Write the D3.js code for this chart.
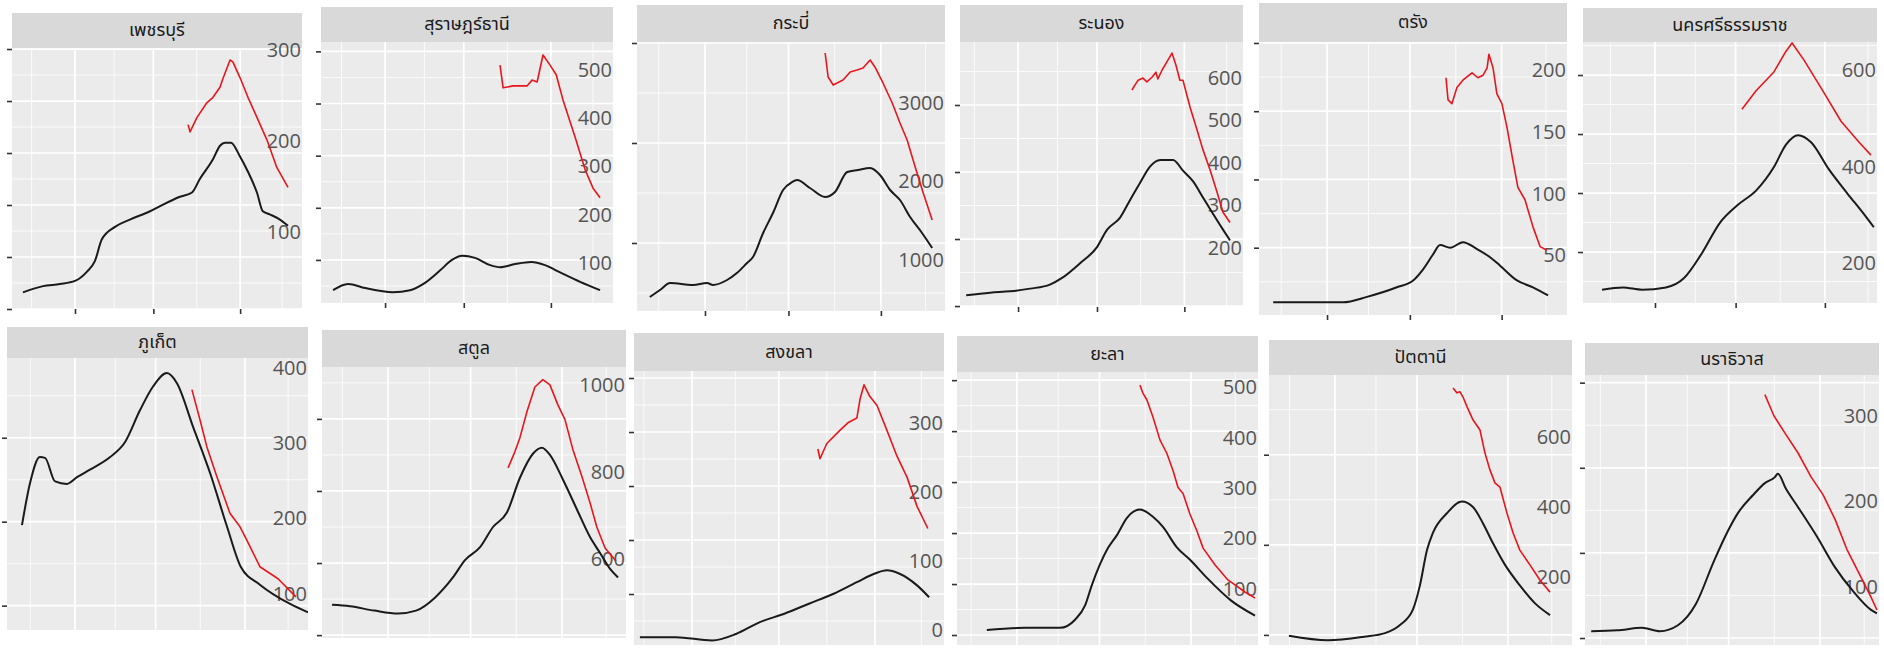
<!DOCTYPE html>
<html><head><meta charset="utf-8">
<script src="https://cdn.jsdelivr.net/npm/d3@7"></script>
<style>
html,body{margin:0;padding:0;background:#fff;}
svg{display:block;}
</style></head>
<body>
<svg id="chart" width="1884" height="648"></svg>
<script>
// ---------------- DATA ----------------
// x values: days counted from 1 Feb 2022 (negative = January)
const provinces = ["เพชรบุรี","สุราษฎร์ธานี","กระบี่","ระนอง","ตรัง","นครศรีธรรมราช",
                   "ภูเก็ต","สตูล","สงขลา","ยะลา","ปัตตานี","นราธิวาส"];
const monthStarts = [-31, 0, 28, 59, 89]; // 1 Jan, 1 Feb, 1 Mar, 1 Apr, 1 May

// black series (left axis, unlabeled) and red series (right axis labels)
const phetchaburiBlack = [[-18.6,16],[-11.4,22],[-5.4,24],[0,27],[4.3,36],[7.1,46],[9.6,67],[14.3,79],[19.6,86],[26.8,94],[30.4,99],[37.5,108],[41.8,112],[44.6,125],[49.3,144],[51.8,157],[53.6,160],[55.7,160],[58.9,147],[61.8,132],[65,112],[67.1,94],[69.6,91],[73.2,86],[76.1,80]];
const phetchaburiRed = [[40.4,218],[41.1,210],[43.6,226],[47.1,242],[49.3,248],[51.8,259],[52.9,269],[55.4,289],[56.4,287],[58.9,270],[61.8,248],[65,226],[68.6,201],[72.1,171],[76.1,149]];
const phetchaburiRightTicks = [100,200,300];

const suratBlack = [[-18.5,21],[-13.2,27],[-7.1,23],[2.8,19],[8.9,21],[14.2,28],[19.6,40],[23.8,50],[27.4,54],[32,52],[37.4,45],[40.9,43],[46.3,46],[52,48],[56.9,45],[62.3,38],[69.4,29],[76.5,21]];
const suratRed = [[40.9,510],[42,463],[45.6,467],[50.5,467],[52.3,479],[54.1,475],[56.2,531],[58.7,510],[60.9,490],[63.3,438],[67.6,361],[71.2,293],[74,255],[76.5,235]];
const suratRightTicks = [100,200,300,400,500];

const krabiBlack = [[-18.5,46],[-15.1,53],[-11.7,60],[-4,58],[0.7,60],[2.7,58],[7.4,63],[10.7,70],[14.1,80],[16.1,86],[19.5,110],[22.8,130],[26.2,153],[29.2,161],[30.9,163],[35.2,155],[40.3,146],[43.6,151],[47.7,171],[51.3,173],[55.4,175],[58.7,168],[62.1,153],[65.4,143],[68.8,126],[72.8,110],[76.2,95]];
const krabiRed = [[40.3,3637],[41.3,3331],[43,3229],[46.3,3293],[48.7,3395],[51,3420],[53,3446],[55.4,3548],[57,3459],[59.7,3255],[62.8,3000],[65.4,2745],[67.8,2529],[70.5,2185],[73.2,1853],[76.2,1509]];
const krabiRightTicks = [1000,2000,3000];

const ranongBlack = [[-18.4,8],[-9.9,10],[-2.8,11],[4.3,13],[11.3,16],[15.6,21],[22,32],[28,44],[31.6,57],[36.2,66],[39.7,79],[43.3,92],[46.8,104],[50.4,109],[55,109],[58.5,101],[62.1,93],[65.6,81],[69.1,69],[72.7,57],[75.2,49]];
const ranongRed = [[40.4,572],[41.5,584],[42.6,595],[44.3,600],[45.7,591],[47.5,602],[48.9,614],[49.6,598],[51.1,619],[52.8,638],[54.6,659],[56,631],[57.4,595],[58.5,595],[61,532],[63.5,478],[65.6,431],[68.1,384],[70.6,331],[72.7,284],[75.2,260]];
const ranongRightTicks = [200,300,400,500,600];

const trangBlack = [[-18.2,10],[-9.1,10],[5.4,10],[13.5,14],[23.6,21],[29.1,26],[32.4,34],[35.8,45],[38.2,52],[41.6,50],[45.9,54],[50.7,49],[55.1,43],[58.4,37],[64.2,26],[69.6,21],[74.7,15]];
const trangRed = [[40.2,194],[40.9,176],[42.2,173],[43.9,186],[45.9,192],[49,198],[51,194],[52.7,196],[54.1,202],[54.7,213],[56.1,202],[57.4,181],[59.1,173],[60.8,154],[62.8,127],[64.5,105],[66.9,95],[69.6,73],[72,57],[74.3,54]];
const trangRightTicks = [50,100,150,200];

const nakhonBlack = [[-18.4,18],[-11.1,20],[-4.5,18],[3.8,20],[10.1,28],[16.3,49],[22.6,75],[28.8,90],[35.1,102],[41.3,122],[45.5,141],[49.7,149],[54.2,143],[60.4,120],[66.7,100],[72.9,81],[76,71]];
const nakhonRed = [[30.2,519],[35.1,557],[41.3,596],[45.5,639],[47.6,656],[51.7,621],[58.3,557],[64.6,494],[70.8,451],[75,424]];
const nakhonRightTicks = [200,400,600];

const phuketBlack = [[-18.4,196],[-15.6,246],[-12.2,277],[-10.4,276],[-6.9,248],[-2.8,245],[0.7,253],[5.2,262],[12.2,277],[17.4,295],[22.6,333],[27.1,361],[31.9,377],[35.4,365],[41,313],[46.9,258],[52.8,194],[57.6,146],[64.2,125],[74.7,102],[80.9,92]];
const phuketRed = [[40.6,371],[43.4,331],[45.8,295],[49.3,255],[53.8,207],[57.3,189],[59.7,171],[64.2,136],[70.5,120],[76.7,96]];
const phuketRightTicks = [100,200,300,400];

const satunBlack = [[-19,71],[-12.9,70],[-4.7,67],[3.4,65],[9.5,67],[15.9,76],[22,90],[26.1,102],[31.2,111],[35.6,125],[40.3,135],[44.7,159],[49.2,176],[52.2,180],[54.9,175],[59.3,158],[64.1,137],[68.5,118],[71.9,107],[75.3,96],[78,90]];
const satunRed = [[40.7,809],[43,846],[44.7,878],[47.1,938],[49.8,995],[52.5,1012],[54.9,1000],[57.6,954],[60,920],[62.7,851],[65.8,788],[68.5,729],[70.8,673],[73.6,625],[77.3,595]];
const satunRightTicks = [600,800,1000];

const songkhlaBlack = [[-16.8,10],[-5.2,10],[6.5,7],[14.2,13],[21.9,24],[30,32],[37.7,41],[45.5,50],[53.2,61],[59,69],[62.9,72],[66.8,69],[72.6,58],[76.5,47]];
const songkhlaRed = [[40.6,262],[41.3,248],[43.5,270],[47.7,289],[50.3,300],[53.2,307],[54.2,334],[55.5,355],[57.4,338],[59.7,325],[62.9,289],[66.1,252],[69.4,221],[72.6,179],[76.1,147]];
const songkhlaRightTicks = [0,100,200,300];

const yalaBlack = [[-10.2,5],[3.1,7],[14.6,7],[19.7,15],[23.1,29],[25.4,49],[28.1,69],[30.8,85],[33.9,98],[37.3,115],[41.7,123],[46.1,116],[49.5,106],[54.2,86],[58.6,74],[64.4,56],[72.5,34],[80.7,19]];
const yalaRed = [[41.7,504],[42.7,488],[44.1,474],[46.1,441],[48.5,395],[50.8,369],[52.9,335],[54.6,301],[56.3,289],[58.6,249],[61,215],[63.1,181],[67.1,148],[71.5,118],[77.3,94],[80.7,82]];
const yalaRightTicks = [100,200,300,400,500];

const pattaniBlack = [[-15.7,99],[-2.4,94],[9.9,98],[17.1,102],[22.2,111],[26.6,128],[29,155],[31.4,194],[33.4,213],[38.2,235],[43.3,248],[47.1,242],[50.5,224],[53.9,202],[58,178],[63.1,155],[68.3,135],[73.4,122]];
const pattaniRed = [[40.3,740],[41.6,726],[42.7,729],[43.7,714],[45.1,686],[47.1,649],[49.5,620],[51.2,554],[52.9,506],[54.6,469],[56.3,457],[58.7,383],[60.8,326],[63.1,277],[66.6,234],[70,191],[73.4,157]];
const pattaniRightTicks = [200,400,600];

const narathiwatBlack = [[-18.6,8],[-9.8,9],[-1.4,12],[4.7,8],[10.8,15],[16.9,40],[23.1,91],[27.8,126],[31.2,147],[36.3,168],[40.3,182],[43.7,189],[44.7,193],[47.5,175],[51.5,154],[58,119],[64.1,83],[70.2,55],[76.3,33],[78.3,29]];
const narathiwatRed = [[40.3,325],[43.4,300],[47.5,278],[51.5,257],[55.9,229],[60,208],[64.1,179],[68.1,144],[72.2,116],[76.3,88],[78.3,73]];
const narathiwatRightTicks = [100,200,300];

// ---------------- LAYOUT (collage of panels) ----------------
const seriesBlack = [phetchaburiBlack,suratBlack,krabiBlack,ranongBlack,trangBlack,nakhonBlack,phuketBlack,satunBlack,songkhlaBlack,yalaBlack,pattaniBlack,narathiwatBlack];
const seriesRed = [phetchaburiRed,suratRed,krabiRed,ranongRed,trangRed,nakhonRed,phuketRed,satunRed,songkhlaRed,yalaRed,pattaniRed,narathiwatRed];
const rightTicks = [phetchaburiRightTicks,suratRightTicks,krabiRightTicks,ranongRightTicks,trangRightTicks,nakhonRightTicks,phuketRightTicks,satunRightTicks,songkhlaRightTicks,yalaRightTicks,pattaniRightTicks,narathiwatRightTicks];

const layout = [
 {x0:12,  x1:302,  st:13, top:48,  bot:309, xd:[-22.5,81.1], ld:[0,251],     step:50,  rd:[15.4,302.2], row:0},
 {x0:321, x1:613,  st:7,  top:42,  bot:303, xd:[-22.8,81.1], ld:[8.7,259],   step:50,  rd:[17,558],     row:0},
 {x0:637, x1:945,  st:5,  top:42,  bot:311, xd:[-22.8,80.5], ld:[32,301],    step:100, rd:[350,3777],   row:0},
 {x0:960, x1:1243, st:5,  top:42,  bot:307, xd:[-20.6,79.8], ld:[-0.7,197],  step:50,  rd:[61,685],     row:0},
 {x0:1259,x1:1567, st:3,  top:42,  bot:315, xd:[-23,81.1],   ld:[0.7,200.7], step:50,  rd:[1.5,223],    row:0},
 {x0:1583,x1:1877, st:8,  top:42,  bot:303, xd:[-25,77.1],   ld:[6.8,228],   step:50,  rd:[118,658],    row:0},
 {x0:7,   x1:308,  st:327,top:358, bot:630, xd:[-23.6,80.9], ld:[71,395],    step:100, rd:[52,413],     row:1},
 {x0:322, x1:626,  st:330,top:367, bot:638, xd:[-22.4,80.7], ld:[48,236],    step:50,  rd:[418,1041],   row:1},
 {x0:634, x1:944,  st:333,top:371, bot:645, xd:[-18.7,81.3], ld:[2.8,256.5], step:50,  rd:[-21.7,375],  row:1},
 {x0:957, x1:1258, st:336,top:372, bot:645, xd:[-20.3,81.7], ld:[-9.8,258],  step:50,  rd:[-11,530],    row:1},
 {x0:1269,x1:1572, st:340,top:375, bot:645, xd:[-22.5,80.9], ld:[88.8,388.5],step:100, rd:[6,777],      row:1},
 {x0:1585,x1:1879, st:343,top:375, bot:645, xd:[-20.7,79],   ld:[-8.2,309],  step:100, rd:[32,348],     row:1}
];

const svg = d3.select('#chart');
const defs = svg.append('defs');

layout.forEach((p, i) => {
  const g = svg.append('g');
  const w = p.x1 - p.x0, h = p.bot - p.top;
  const clipId = 'clip' + i;
  defs.append('clipPath').attr('id', clipId).append('rect')
    .attr('x', p.x0).attr('y', p.top).attr('width', w).attr('height', h);

  // strip
  g.append('rect').attr('x', p.x0).attr('y', p.st).attr('width', w).attr('height', p.top - p.st)
    .attr('fill', '#d9d9d9');
  g.append('text').attr('x', (p.x0 + p.x1) / 2).attr('y', (p.st + p.top) / 2)
    .attr('text-anchor', 'middle').attr('dominant-baseline', 'central')
    .attr('font-family', '"Noto Sans Thai","Noto Sans","DejaVu Sans",sans-serif')
    .attr('font-size', 18).attr('fill', '#1a1a1a').text(provinces[i]);

  // panel
  g.append('rect').attr('x', p.x0).attr('y', p.top).attr('width', w).attr('height', h)
    .attr('fill', '#ebebeb');

  const x = d3.scaleLinear().domain(p.xd).range([p.x0, p.x1]);
  const yL = d3.scaleLinear().domain(p.ld).range([p.bot, p.top]);
  const yR = d3.scaleLinear().domain(p.rd).range([p.bot, p.top]);

  const grid = g.append('g').attr('clip-path', `url(#${clipId})`);
  const xMinor = d3.pairs(monthStarts).map(([a, b]) => (a + b) / 2);
  const xMajor = monthStarts.filter(d => d >= p.xd[0] && d <= p.xd[1]);
  const yMajor = d3.range(Math.ceil(p.ld[0] / p.step) * p.step, p.ld[1] + 1e-6, p.step);
  const yMinor = d3.range(Math.ceil(p.ld[0] / p.step) * p.step - p.step / 2, p.ld[1] + p.step, p.step);

  grid.selectAll('.vmin').data(xMinor).join('line')
    .attr('x1', d => x(d)).attr('x2', d => x(d)).attr('y1', p.top).attr('y2', p.bot)
    .attr('stroke', '#fff').attr('stroke-width', 0.8);
  grid.selectAll('.hmin').data(yMinor).join('line')
    .attr('y1', d => yL(d)).attr('y2', d => yL(d)).attr('x1', p.x0).attr('x2', p.x1)
    .attr('stroke', '#fff').attr('stroke-width', 0.8);
  grid.selectAll('.vmaj').data(monthStarts).join('line')
    .attr('x1', d => x(d)).attr('x2', d => x(d)).attr('y1', p.top).attr('y2', p.bot)
    .attr('stroke', '#fff').attr('stroke-width', 1.7);
  grid.selectAll('.hmaj').data(yMajor).join('line')
    .attr('y1', d => yL(d)).attr('y2', d => yL(d)).attr('x1', p.x0).attr('x2', p.x1)
    .attr('stroke', '#fff').attr('stroke-width', 1.7);

  // right labels (secondary axis for red line), drawn inside the panel's right edge
  const ax = g.append('g').attr('transform', `translate(${p.x1 - 1},0)`)
    .call(d3.axisLeft(yR).tickValues(rightTicks[i]).tickSize(0).tickPadding(0).tickFormat(d3.format('d')));
  ax.select('.domain').remove();
  ax.selectAll('text').attr('font-family', '"Open Sans","DejaVu Sans",sans-serif')
    .attr('font-size', 20).attr('fill', '#555');

  // lines
  const lineB = d3.line().x(d => x(d[0])).y(d => yL(d[1])).curve(d3.curveMonotoneX);
  const lineR = d3.line().x(d => x(d[0])).y(d => yR(d[1])).curve(d3.curveLinear);
  const lines = g.append('g').attr('clip-path', `url(#${clipId})`);
  lines.append('path').datum(seriesRed[i]).attr('d', lineR)
    .attr('fill', 'none').attr('stroke', '#e8161c').attr('stroke-width', 1.6)
    .attr('stroke-linejoin', 'round');
  lines.append('path').datum(seriesBlack[i]).attr('d', lineB)
    .attr('fill', 'none').attr('stroke', '#1a1a1a').attr('stroke-width', 2)
    .attr('stroke-linejoin', 'round');

  // left tick marks (labels cut off in the collage)
  const al = g.append('g').attr('transform', `translate(${p.x0},0)`)
    .call(d3.axisLeft(yL).tickValues(yMajor.filter(v => yL(v) >= p.top - 1 && yL(v) <= p.bot + 1)).tickSize(5).tickFormat(''));
  al.select('.domain').remove();
  al.selectAll('line').attr('stroke', '#333').attr('stroke-width', 1.6);

  // bottom tick marks for the top row
  if (p.row === 0) {
    const ab = g.append('g').attr('transform', `translate(0,${p.bot})`)
      .call(d3.axisBottom(x).tickValues(xMajor).tickSize(5).tickFormat(''));
    ab.select('.domain').remove();
    ab.selectAll('line').attr('stroke', '#333').attr('stroke-width', 1.6);
  }
});
</script>
</body></html>
